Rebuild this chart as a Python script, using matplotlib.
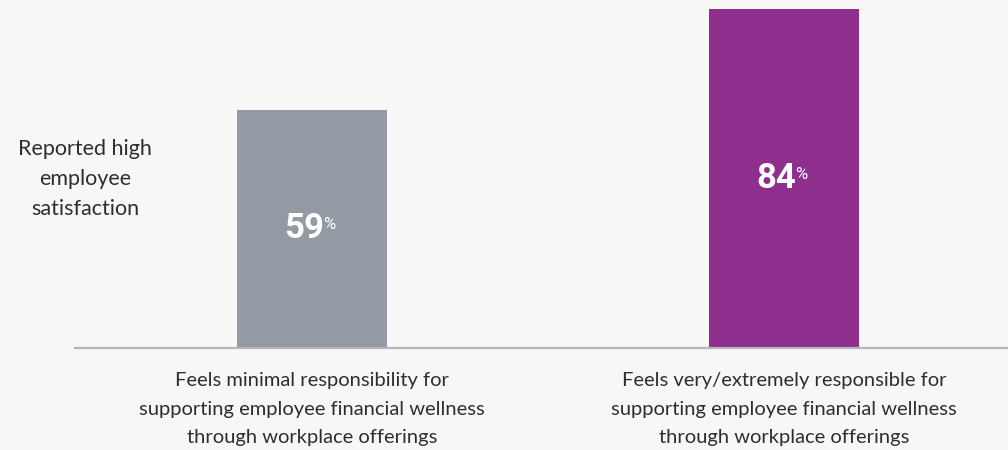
import matplotlib
matplotlib.use("Agg")
import matplotlib.pyplot as plt

categories = [
    "Feels minimal responsibility for\nsupporting employee financial wellness\nthrough workplace offerings",
    "Feels very/extremely responsible for\nsupporting employee financial wellness\nthrough workplace offerings",
]
values = [59, 84]
colors = ["#949aa3", "#8e2f8e"]
ylabel = "Reported high\nemployee\nsatisfaction"

BG = "#f7f7f5"
TXT = "#2e2e2e"
W, H, DPI = 1008, 450, 100

fig = plt.figure(figsize=(W / DPI, H / DPI), dpi=DPI, facecolor=BG)
ax = fig.add_axes([75 / W, (H - 348) / H, (1008 - 75) / W, 348 / H])
ax.set_facecolor(BG)

x = list(range(len(values)))
bw = 150 / 472
ax.bar(x, values, width=bw, color=colors, zorder=2)
ax.set_xlim(-(312 - 75) / 472, 1 + (1008 - 784) / 472)
ax.set_ylim(0, 348 / 4.035)

for s in ["top", "right", "left"]:
    ax.spines[s].set_visible(False)
ax.spines["bottom"].set_color("#b3b6ba")
ax.spines["bottom"].set_linewidth(1.6)
ax.set_yticks([])
ax.set_xticks(x)
ax.set_xticklabels(categories, fontsize=14.5, color=TXT, family="Lato", linespacing=1.85)
ax.tick_params(axis="x", length=0, pad=17)

fig.text(85 / W, 1 - 179 / H, ylabel, ha="center", va="center", fontsize=15.5,
         color=TXT, family="Lato", linespacing=1.6)

fig.canvas.draw()
renderer = fig.canvas.get_renderer()
for xi, v in zip(x, values):
    t = ax.text(xi - 0.017, v / 2, f"{v}", ha="center", va="center", fontsize=25,
                fontweight="bold", color="white", family="Roboto", zorder=3)
    bb = t.get_window_extent(renderer=renderer)
    inv = ax.transData.inverted()
    x1, y1 = inv.transform((bb.x1 - 1, bb.y1 - 5))
    ax.text(x1, y1, "%", ha="left", va="top", fontsize=12, color="white",
            family="Roboto", zorder=3)

fig.savefig("out.png", dpi=DPI, facecolor=BG)
